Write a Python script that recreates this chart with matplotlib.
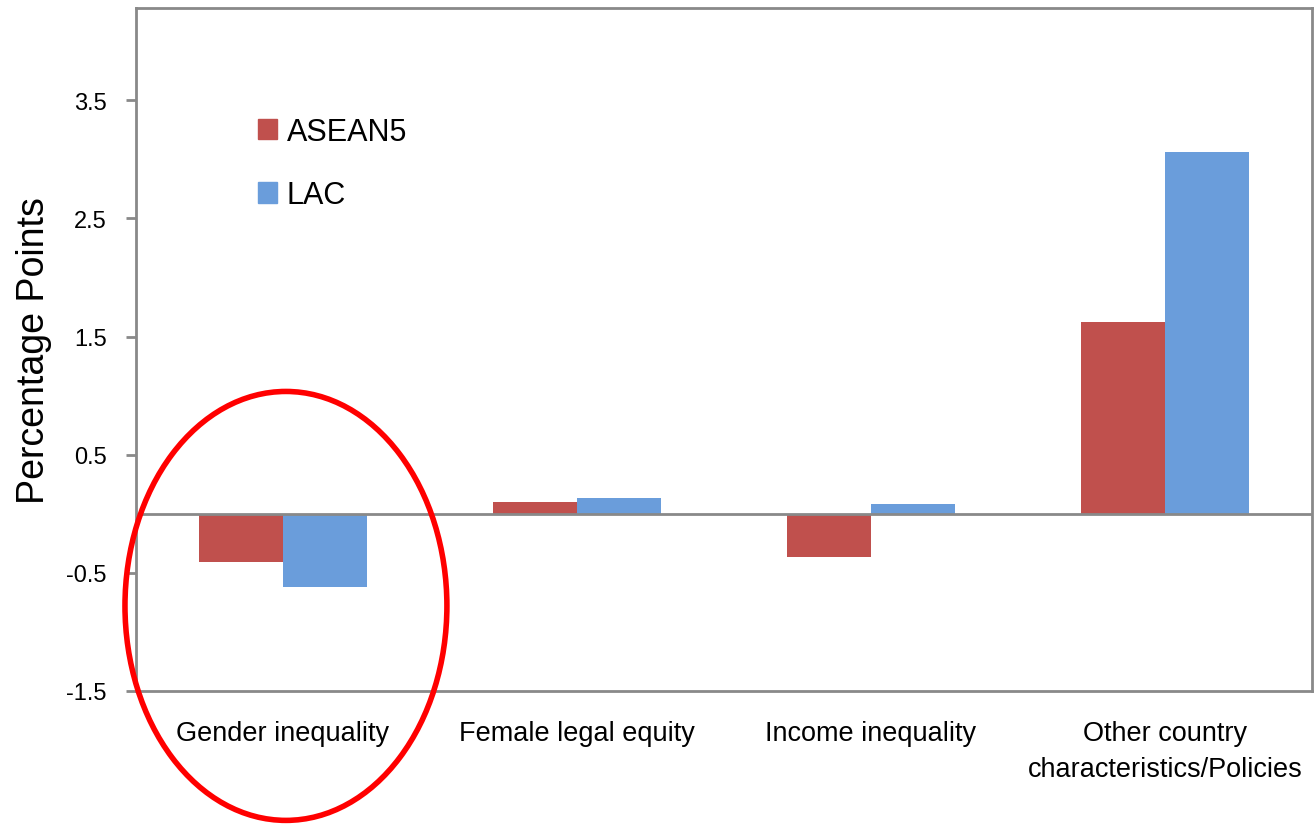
import matplotlib.pyplot as plt
from matplotlib.patches import Ellipse, Patch
import numpy as np

plt.rcParams['font.family'] = ['Liberation Sans', 'DejaVu Sans']

categories = ['Gender inequality', 'Female legal equity', 'Income inequality',
              'Other country\ncharacteristics/Policies']
asean5 = [-0.41, 0.10, -0.37, 1.62]
lac = [-0.62, 0.13, 0.085, 3.06]
yticks = [-1.5, -0.5, 0.5, 1.5, 2.5, 3.5]

red = '#C0504D'
blue = '#6A9DDB'
grey = '#898989'

fig = plt.figure(figsize=(13.16, 8.28), dpi=100)
ax = fig.add_axes([136 / 1316, 1 - 692 / 828, 1176 / 1316, 683 / 828])

x = np.arange(len(categories))
w = 0.286
ax.bar(x - w / 2, asean5, w, color=red, label='ASEAN5', zorder=2)
ax.bar(x + w / 2, lac, w, color=blue, label='LAC', zorder=2)
ax.axhline(0, color=grey, lw=2, zorder=3)

ax.set_xlim(-0.5, 3.5)
ax.set_ylim(-1.5, 4.28)
ax.set_yticks(yticks)
ax.set_yticklabels([str(t) for t in yticks], fontsize=17)
ax.set_xticks(x)
ax.set_xticklabels(categories, fontsize=19.5, linespacing=1.5, va='top')
ax.tick_params(axis='x', length=0, pad=21)
ax.tick_params(axis='y', length=7, width=2, color=grey, pad=14)
for s in ax.spines.values():
    s.set_color(grey)
    s.set_linewidth(2)

ax.set_ylabel('Percentage Points', fontsize=27, labelpad=10)

handles = [Patch(color=red, label='ASEAN5'), Patch(color=blue, label='LAC')]
ax.legend(handles=handles, loc='upper left', bbox_to_anchor=(0.08, 0.881),
          frameon=False, fontsize=22, handlelength=0.65, handleheight=0.65,
          handletextpad=0.3, labelspacing=1.1)

ell = Ellipse((0.01, -0.78), 1.095, 3.63, fill=False, edgecolor='#FF0000',
              lw=4, clip_on=False, zorder=5)
ax.add_patch(ell)

fig.savefig('out.png', dpi=100)
